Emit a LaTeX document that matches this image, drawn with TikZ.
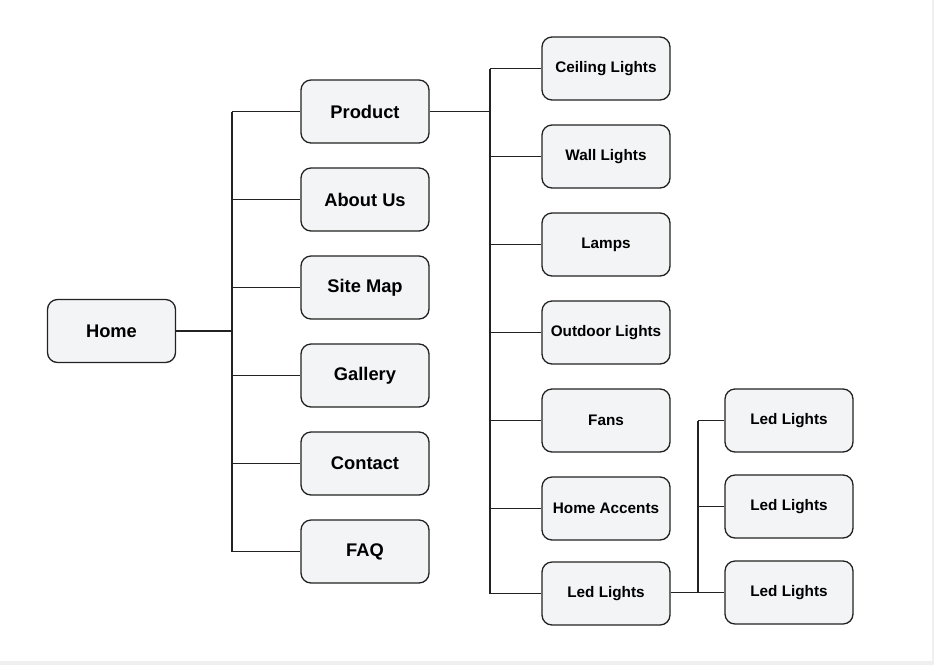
\documentclass[tikz,border=0pt]{standalone}
\usepackage{fontspec}
\setmainfont{Liberation Sans}
\definecolor{boxfill}{HTML}{F3F4F6}
\definecolor{boxline}{HTML}{222222}
\definecolor{edgegray}{HTML}{EFEFEF}
\begin{document}
\begin{tikzpicture}[x=1pt,y=-1pt,
  box/.style={rectangle, rounded corners=10pt, draw=boxline, fill=boxfill, line width=1.3pt,
    minimum width=128pt, minimum height=63pt, inner sep=0pt},
  big/.style={box, font=\bfseries\fontsize{18.3}{20}\selectfont},
  small/.style={box, font=\bfseries\fontsize{15.3}{17}\selectfont},
  conn/.style={draw=boxline, line width=1.3pt}]
\fill[edgegray] (0,0) rectangle (934,665);
\fill[white] (0,0) rectangle (932,661);
\useasboundingbox (0,0) rectangle (934,665);
% level 1
\node[big] (home) at (111.5,331) {Home};
% level 2
\node[big] (prod) at (365,111.5) {Product};
\node[big] (about) at (365,199.5) {About Us};
\node[big] (site) at (365,287.5) {Site Map};
\node[big] (gall) at (365,375.5) {Gallery};
\node[big] (cont) at (365,463.5) {Contact};
\node[big] (faq) at (365,551.5) {FAQ};
% level 3
\node[small] (ceil) at (606,68.5) {Ceiling Lights};
\node[small] (wall) at (606,156.5) {Wall Lights};
\node[small] (lamp) at (606,244.5) {Lamps};
\node[small] (outd) at (606,332.5) {Outdoor Lights};
\node[small] (fans) at (606,420.5) {Fans};
\node[small] (acc) at (606,508.5) {Home Accents};
\node[small] (led) at (606,593.5) {Led Lights};
% level 4
\node[small] (ledA) at (789,420.5) {Led Lights};
\node[small] (ledB) at (789,506.5) {Led Lights};
\node[small] (ledC) at (789,592.5) {Led Lights};
% connectors level 1-2
\coordinate (j1) at (232,331);
\draw[conn] (home.east) -- (j1);
\draw[conn] (j1 |- prod) -- (j1 |- faq);
\foreach \n in {prod,about,site,gall,cont,faq} \draw[conn] (j1 |- \n) -- (\n.west);
% connectors level 2-3
\coordinate (j2) at (490,111.5);
\draw[conn] (prod.east) -- (j2);
\draw[conn] (j2 |- ceil) -- (j2 |- led);
\foreach \n in {ceil,wall,lamp,outd,fans,acc,led} \draw[conn] (j2 |- \n) -- (\n.west);
% connectors level 3-4
\coordinate (j3) at (698,592.5);
\draw[conn] (led.east |- j3) -- (j3);
\draw[conn] (j3 |- ledA) -- (j3 |- ledC);
\foreach \n in {ledA,ledB,ledC} \draw[conn] (j3 |- \n) -- (\n.west);
% redraw boxes on top
\end{tikzpicture}
\end{document}
